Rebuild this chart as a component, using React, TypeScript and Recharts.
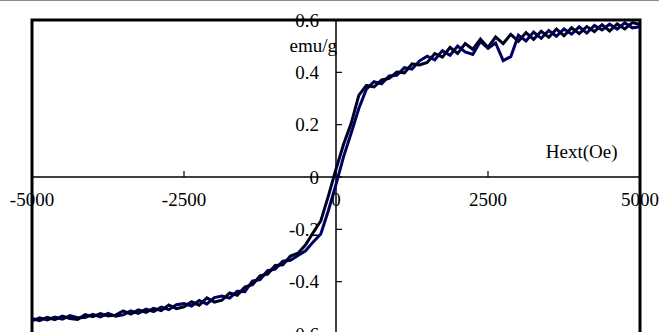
import {
  LineChart,
  Line,
  XAxis,
  YAxis,
  ReferenceLine,
  ReferenceArea,
  ReferenceDot,
} from "recharts";

// applied field, Oe
const fieldOe = [
  -5000, -4875, -4750, -4625, -4500, -4375, -4250, -4125, -4000, -3875,
  -3750, -3625, -3500, -3375, -3250, -3125, -3000, -2875, -2750, -2625,
  -2500, -2375, -2250, -2125, -2000, -1875, -1750, -1625, -1500, -1375,
  -1250, -1125, -1000, -875, -750, -625, -500, -375, -250, -125,
  0, 125, 250, 375, 500, 625, 750, 875, 1000, 1125,
  1250, 1375, 1500, 1625, 1750, 1875, 2000, 2125, 2250, 2375,
  2500, 2625, 2750, 2875, 3000, 3125, 3250, 3375, 3500, 3625,
  3750, 3875, 4000, 4125, 4250, 4375, 4500, 4625, 4750, 4875, 5000,
];

// descending branch, emu/g
const magDown = [
  -0.541, -0.549, -0.536, -0.545, -0.532, -0.541, -0.544, -0.526, -0.534, -0.522,
  -0.531, -0.528, -0.512, -0.524, -0.508, -0.517, -0.502, -0.511, -0.489, -0.503,
  -0.496, -0.477, -0.49, -0.462, -0.478, -0.471, -0.443, -0.452, -0.421, -0.412,
  -0.378, -0.371, -0.338, -0.336, -0.302, -0.291, -0.259, -0.212, -0.168, -0.072,
  0.03, 0.125, 0.205, 0.312, 0.35, 0.344, 0.371, 0.377, 0.401, 0.398,
  0.432, 0.428, 0.438, 0.472, 0.458, 0.495, 0.472, 0.51, 0.488, 0.527,
  0.495, 0.535, 0.51, 0.545, 0.518, 0.552, 0.526, 0.557, 0.534, 0.565,
  0.54, 0.57, 0.548, 0.575, 0.556, 0.582, 0.558, 0.585, 0.566, 0.59, 0.583,
];

// ascending branch, emu/g
const magUp = [
  -0.55, -0.538, -0.546, -0.535, -0.543, -0.53, -0.538, -0.537, -0.525, -0.535,
  -0.521, -0.532, -0.527, -0.512, -0.521, -0.505, -0.514, -0.497, -0.507, -0.488,
  -0.484, -0.493, -0.472, -0.485, -0.461, -0.455, -0.463, -0.437, -0.438, -0.398,
  -0.392, -0.358, -0.352, -0.322, -0.318, -0.3, -0.282, -0.248, -0.218, -0.128,
  -0.028, 0.078, 0.168, 0.262, 0.336, 0.364, 0.356, 0.386, 0.389, 0.418,
  0.412, 0.444, 0.462, 0.448, 0.483, 0.465, 0.5, 0.478, 0.468, 0.518,
  0.492, 0.512, 0.445, 0.46, 0.542, 0.52, 0.554, 0.53, 0.56, 0.538,
  0.566, 0.546, 0.574, 0.55, 0.579, 0.562, 0.584, 0.565, 0.589, 0.57, 0.574,
];

const xTicks = [-5000, -2500, 0, 2500, 5000];
const xTickLabels = ["-5000", "-2500", "0", "2500", "5000"];
const yTicks = [0.6, 0.4, 0.2, 0, -0.2, -0.4, -0.6];
const yTickLabels = ["0.6", "0.4", "0.2", "0", "-0.2", "-0.4", "-0.6"];

const data = fieldOe.map((h, i) => ({ h, down: magDown[i], up: magUp[i] }));

const FONT = '"Liberation Serif", "Times New Roman", serif';
const textStyle = { fontFamily: FONT, fontSize: 19, fill: "#000" };

export default function App() {
  return (
    <div
      style={{
        position: "absolute",
        left: 0,
        top: 0,
        width: 659,
        height: 332,
        overflow: "hidden",
        background: "#fff",
        borderTop: "1px solid #8c8c8c",
        boxSizing: "border-box",
      }}
    >
      <LineChart
        width={659}
        height={340}
        data={data}
        margin={{ top: 19, right: 19, bottom: 7, left: 32 }}
      >
        <XAxis dataKey="h" type="number" domain={[-5000, 5000]} hide />
        <YAxis type="number" domain={[-0.6, 0.6]} hide />
        <ReferenceArea
          x1={-5000}
          x2={5000}
          y1={-0.6}
          y2={0.6}
          fill="none"
          stroke="#000"
          strokeWidth={3}
        />
        <ReferenceLine y={0} stroke="#000" strokeWidth={1.5} />
        <ReferenceLine x={0} stroke="#000" strokeWidth={1.5} />
        {xTicks.map((v, i) => (
          <ReferenceDot
            key={"x" + v}
            x={v}
            y={0}
            r={0}
            ifOverflow="visible"
            shape={(p: any) => (
              <g>
                <line x1={p.cx} y1={p.cy} x2={p.cx} y2={p.cy - 6} stroke="#000" strokeWidth={1.2} />
                <text x={p.cx} y={p.cy + 29} textAnchor="middle" style={textStyle}>
                  {xTickLabels[i]}
                </text>
              </g>
            )}
          />
        ))}
        {yTicks.map((v, i) => (
          <ReferenceDot
            key={"y" + v}
            x={0}
            y={v}
            r={0}
            ifOverflow="visible"
            shape={(p: any) => (
              <g>
                <line x1={p.cx} y1={p.cy} x2={p.cx + 6} y2={p.cy} stroke="#000" strokeWidth={1.2} />
                <text x={p.cx - 17} y={p.cy + 6.5} textAnchor="end" style={textStyle}>
                  {yTickLabels[i]}
                </text>
              </g>
            )}
          />
        ))}
        <ReferenceDot
          x={0}
          y={0.5}
          r={0}
          ifOverflow="visible"
          shape={(p: any) => (
            <text x={p.cx + 1} y={p.cy + 6} textAnchor="end" style={textStyle}>
              emu/g
            </text>
          )}
        />
        <ReferenceDot
          x={4040}
          y={0.095}
          r={0}
          ifOverflow="visible"
          shape={(p: any) => (
            <text x={p.cx} y={p.cy + 6} textAnchor="middle" style={textStyle}>
              Hext(Oe)
            </text>
          )}
        />
        <Line
          type="linear"
          dataKey="up"
          stroke="#000066"
          strokeWidth={3}
          dot={false}
          isAnimationActive={false}
        />
        <Line
          type="linear"
          dataKey="down"
          stroke="#000022"
          strokeWidth={3}
          dot={false}
          isAnimationActive={false}
        />
      </LineChart>
    </div>
  );
}
